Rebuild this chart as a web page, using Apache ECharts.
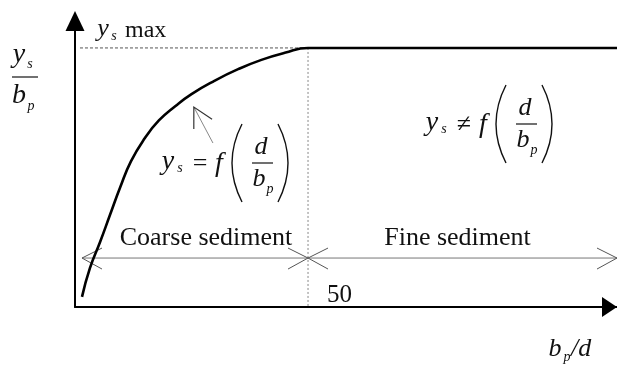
<!DOCTYPE html>
<html>
<head>
<meta charset="utf-8">
<script src="https://cdn.jsdelivr.net/npm/echarts@6/dist/echarts.min.js"></script>
<style>html,body{margin:0;padding:0;background:#fff}#c{width:617px;height:370px}</style>
</head>
<body>
<div id="c"></div>
<script>
// ---- data ----
var curveX = [1.5, 3.2, 5.4, 7.5, 9.7, 12, 15, 18, 21.5, 25, 30, 35, 40, 45, 50, 116.3];
var curveY = [0.039, 0.15, 0.252, 0.355, 0.462, 0.562, 0.652, 0.72, 0.775, 0.822, 0.874, 0.918, 0.954, 0.981, 1.0, 1.0];
var ysMax = 1.0;
var threshold = 50;            // b_p/d boundary
var xTickLabels = ['50'];
var xTickValues = [50];
var rangeLabels = ['Coarse sediment', 'Fine sediment'];
var rangeStart = [1.5, 50];
var rangeEnd = [50, 116.3];
var rangeLevel = 0.189;
var pointerTip = [25.5, 0.772];
var pointerTail = [29.6, 0.633];

var SERIF = '"Liberation Serif", "Times New Roman", serif';

var chart = echarts.init(document.getElementById('c'), null, {renderer: 'canvas'});

var curveData = curveX.map(function (x, i) { return [x, curveY[i]]; });
var rangeData = rangeStart.map(function (s, i) { return [s, rangeEnd[i], rangeLevel]; });

function txt(x, baseline, str, size, italic, align) {
  return {
    type: 'text', x: x, y: baseline - size * 0.3, silent: true,
    style: {
      text: str, fill: '#111', font: (italic ? 'italic ' : '') + size + 'px ' + SERIF,
      align: align || 'center', verticalAlign: 'middle'
    }
  };
}
function formula(cx, cy, op) {
  var els = [];
  els.push(txt(cx - 94, cy + 7, 'y', 28, true));
  els.push(txt(cx - 82, cy + 10, 's', 14, true));
  els.push(txt(cx - 62, cy + 9, op, 26, false));
  els.push(txt(cx - 43, cy + 9, 'f', 28, true));
  els.push({type: 'bezierCurve', silent: true, shape: {x1: cx - 20, y1: cy - 39, cpx1: cx - 40, cpy1: cy, x2: cx - 20, y2: cy + 39}, style: {stroke: '#111', lineWidth: 1.4, fill: null}});
  els.push(txt(cx - 1, cy - 8, 'd', 26, true));
  els.push({type: 'line', silent: true, shape: {x1: cx - 10, y1: cy, x2: cx + 11, y2: cy}, style: {stroke: '#111', lineWidth: 1.2}});
  els.push(txt(cx - 3, cy + 24, 'b', 26, true));
  els.push(txt(cx + 8, cy + 31, 'p', 14, true));
  els.push({type: 'bezierCurve', silent: true, shape: {x1: cx + 16, y1: cy - 39, cpx1: cx + 36, cpy1: cy, x2: cx + 16, y2: cy + 39}, style: {stroke: '#111', lineWidth: 1.4, fill: null}});
  return els;
}

var option = {
  backgroundColor: '#fff',
  animation: false,
  grid: {left: 75, right: 0, top: 21, bottom: 63},
  xAxis: {
    type: 'value', min: 0, max: 116.3,
    axisLine: {show: true, onZero: false, symbol: ['none', 'triangle'], symbolSize: [20, 15], symbolOffset: [0, -7.5], lineStyle: {color: '#000', width: 2}},
    axisTick: {show: false}, axisLabel: {show: false}, splitLine: {show: false}
  },
  yAxis: {
    type: 'value', min: 0, max: 1.104,
    axisLine: {show: true, onZero: false, symbol: ['none', 'triangle'], symbolSize: [19, 20], lineStyle: {color: '#000', width: 2}},
    axisTick: {show: false}, axisLabel: {show: false}, splitLine: {show: false}
  },
  series: [
    {
      type: 'line', data: [[1.07, ysMax], [threshold, ysMax]], symbol: 'none', silent: true, clip: false,
      lineStyle: {color: '#555', width: 1, type: [3, 2]}, z: 1
    },
    {
      type: 'line', data: [[threshold, ysMax], [threshold, 0]], symbol: 'none', silent: true, clip: false,
      lineStyle: {color: '#888', width: 1, type: [2, 2]}, z: 1
    },
    {
      type: 'line', data: curveData, symbol: 'none', smooth: 0.5, silent: true, clip: false,
      lineStyle: {color: '#000', width: 2.6}, z: 3
    },
    {
      type: 'custom', data: rangeData, clip: false, silent: true, z: 2,
      renderItem: function (params, api) {
        var p0 = api.coord([api.value(0), api.value(2)]);
        var p1 = api.coord([api.value(1), api.value(2)]);
        var st = {stroke: '#777', lineWidth: 1};
        return {
          type: 'group', children: [
            {type: 'line', shape: {x1: p0[0], y1: p0[1], x2: p1[0], y2: p1[1]}, style: st},
            {type: 'polyline', shape: {points: [[p0[0] + 20, p0[1] - 10], [p0[0], p0[1]], [p0[0] + 20, p0[1] + 11]]}, style: {stroke: '#555', lineWidth: 1, fill: null}},
            {type: 'polyline', shape: {points: [[p1[0] - 20, p1[1] - 10], [p1[0], p1[1]], [p1[0] - 20, p1[1] + 11]]}, style: {stroke: '#555', lineWidth: 1, fill: null}}
          ]
        };
      }
    },
    {
      type: 'custom', data: [[pointerTip[0], pointerTip[1], pointerTail[0], pointerTail[1]]], clip: false, silent: true, z: 2,
      renderItem: function (params, api) {
        var t = api.coord([api.value(0), api.value(1)]);
        var b = api.coord([api.value(2), api.value(3)]);
        var ang = Math.atan2(b[1] - t[1], b[0] - t[0]);
        var L = 22, a = 28 * Math.PI / 180;
        var a1 = [t[0] + L * Math.cos(ang - a), t[1] + L * Math.sin(ang - a)];
        var a2 = [t[0] + L * Math.cos(ang + a), t[1] + L * Math.sin(ang + a)];
        return {
          type: 'group', children: [
            {type: 'line', shape: {x1: t[0], y1: t[1], x2: b[0], y2: b[1]}, style: {stroke: '#888', lineWidth: 1}},
            {type: 'polyline', shape: {points: [a1, t, a2]}, style: {stroke: '#333', lineWidth: 1.2, fill: null}}
          ]
        };
      }
    }
  ]
};
chart.setOption(option);

// text annotations
var g = [];
// y axis title ys/bp
g.push(txt(19, 63, 'y', 28, true));
g.push(txt(30, 69, 's', 14, true));
g.push({type: 'line', silent: true, shape: {x1: 12, y1: 77, x2: 38, y2: 77}, style: {stroke: '#111', lineWidth: 1.2}});
g.push(txt(19, 104, 'b', 28, true));
g.push(txt(31, 111, 'p', 14, true));
// ys max
g.push(txt(103, 37, 'y', 26, true));
g.push(txt(114, 41, 's', 14, true));
g.push(txt(125, 38, 'max', 24, false, 'left'));
// x axis title bp/d
g.push(txt(555, 357, 'b', 26, true));
g.push(txt(567, 362, 'p', 14, true));
g.push(txt(571, 357, '/d', 26, true, 'left'));
// formulas
g = g.concat(formula(262, 163, '='));
g = g.concat(formula(526, 124, '\u2260'));
// range labels, centred over each range
rangeLabels.forEach(function (lab, i) {
  var p = chart.convertToPixel({gridIndex: 0}, [(rangeStart[i] + rangeEnd[i]) / 2, rangeLevel]);
  g.push(txt(p[0] + (i === 0 ? 11 : -5), p[1] - 12, lab, 26, false));
});
// tick label 50
xTickValues.forEach(function (v, i) {
  var p = chart.convertToPixel({gridIndex: 0}, [v, 0]);
  g.push(txt(p[0] + 19, p[1] - 4, xTickLabels[i], 25, false, 'left'));
});
chart.setOption({graphic: g});
</script>
</body>
</html>
